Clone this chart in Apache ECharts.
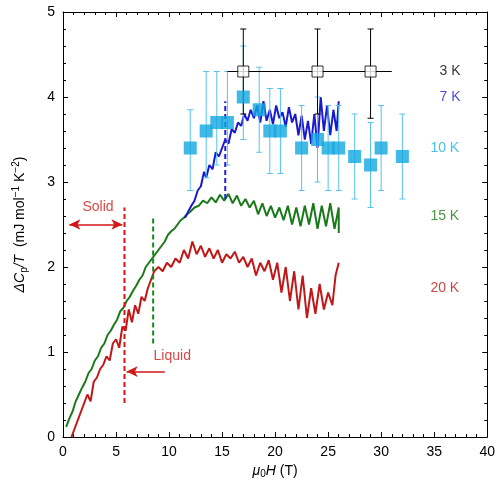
<!DOCTYPE html>
<html lang="en">
<head>
    <meta charset="UTF-8">
    <title>Cp</title>
    <script src="https://cdn.jsdelivr.net/npm/echarts@6/dist/echarts.min.js"></script>
    <style>
        html, body { margin: 0; height: 100%; background: #fff; }
        #main { width: 498px; height: 489px; }
    </style>
</head>
<body>
    <div id="main"></div>
    <script type="text/javascript">
        const chart = echarts.init(document.getElementById('main'));

        // 7 K (blue trace)
        const trace7 = [[11.5,2.58],[11.8,2.65],[12.1,2.72],[12.4,2.78],[12.7,2.9],[13,2.95],[13.3,3.12],[13.5,3.05],[13.8,3.2],[14.1,3.15],[14.4,3.35],[14.7,3.3],[15,3.4],[15.3,3.5],[15.6,3.45],[15.9,3.62],[16.2,3.58],[16.5,3.7],[16.8,3.66],[17.1,3.8],[17.4,3.72],[17.7,3.85],[18,3.75],[18.3,3.9],[18.6,3.7],[18.9,3.95],[19.2,3.72],[19.5,3.85],[19.8,3.68],[20.1,3.9],[20.4,3.75],[20.7,3.82],[21,3.65],[21.3,3.88],[21.6,3.7],[21.9,3.8],[22.2,3.55],[22.5,3.78],[22.8,3.5],[23.1,3.72],[23.4,3.45],[23.7,3.8],[24,3.4],[24.3,4.0],[24.6,3.6],[24.9,3.9],[25.2,3.55],[25.5,3.85],[25.8,3.6],[26,3.95]];
        // 15 K (green trace)
        const trace15 = [[0.3,0.12],[0.6,0.22],[0.9,0.3],[1.2,0.42],[1.5,0.5],[1.8,0.58],[2.1,0.65],[2.4,0.75],[2.7,0.8],[3,0.9],[3.3,0.95],[3.6,1.05],[3.9,1.1],[4.2,1.2],[4.5,1.25],[4.8,1.32],[5.1,1.38],[5.4,1.48],[5.7,1.52],[6,1.6],[6.3,1.65],[6.6,1.72],[6.9,1.78],[7.2,1.85],[7.5,1.9],[7.8,2.0],[8.1,2.05],[8.4,2.1],[8.7,2.15],[9,2.2],[9.3,2.25],[9.6,2.3],[9.9,2.38],[10.2,2.42],[10.5,2.45],[10.8,2.5],[11.1,2.55],[11.4,2.58],[11.7,2.62],[12,2.65],[12.4,2.7],[12.8,2.72],[13.2,2.78],[13.6,2.75],[14,2.82],[14.4,2.76],[14.8,2.85],[15.2,2.78],[15.6,2.86],[16,2.75],[16.4,2.84],[16.8,2.72],[17.2,2.8],[17.6,2.7],[18,2.78],[18.4,2.62],[18.8,2.75],[19.2,2.6],[19.6,2.72],[20,2.58],[20.4,2.7],[20.8,2.55],[21.2,2.72],[21.6,2.5],[22,2.7],[22.4,2.48],[22.8,2.72],[23.2,2.5],[23.6,2.75],[24,2.45],[24.4,2.72],[24.8,2.48],[25.2,2.75],[25.6,2.45],[26,2.7],[26,2.4]];
        // 20 K (red trace)
        const trace20 = [[0.8,0.0],[1.1,0.1],[1.4,0.2],[1.7,0.3],[2,0.4],[2.3,0.5],[2.6,0.42],[2.9,0.65],[3.2,0.7],[3.5,0.8],[3.8,0.85],[4.1,0.95],[4.4,0.9],[4.7,1.1],[5,1.15],[5.3,1.05],[5.6,1.3],[5.9,1.25],[6.2,1.5],[6.5,1.35],[6.8,1.55],[7.1,1.45],[7.4,1.65],[7.7,1.6],[8,1.75],[8.3,1.85],[8.6,1.95],[9,2.0],[9.4,1.95],[9.8,2.05],[10.2,2.0],[10.6,2.1],[11,2.05],[11.4,2.2],[11.8,2.1],[12.2,2.3],[12.6,2.15],[13,2.25],[13.4,2.12],[13.8,2.22],[14.2,2.1],[14.6,2.2],[15,2.05],[15.4,2.15],[15.8,2.1],[16.2,2.18],[16.6,2.05],[17,2.12],[17.4,2.0],[17.8,2.1],[18.2,1.9],[18.6,2.05],[19,1.95],[19.4,2.08],[19.8,1.85],[20.2,2.05],[20.6,1.7],[21,2.0],[21.4,1.6],[21.8,1.95],[22.2,1.5],[22.6,1.9],[23,1.4],[23.4,1.75],[23.8,1.45],[24.2,1.8],[24.6,1.5],[25,1.7],[25.4,1.55],[25.7,1.9],[26,2.05]];

        // 10 K points: [H, value, low, high]
        const pts10 = [[12,3.4,2.9,3.85],[13.5,3.6,3.05,4.3],[14.5,3.7,3.2,4.3],[15.5,3.7,3.2,4.3],[17,4.0,3.5,4.6],[18.5,3.85,3.35,4.35],[19.5,3.6,3.1,4.1],[20.5,3.6,3.1,4.1],[22.5,3.4,2.9,3.9],[24,3.5,3.0,4.0],[25,3.4,2.9,3.9],[26,3.4,2.9,3.9],[27.5,3.3,2.8,3.8],[29,3.2,2.7,3.7],[30,3.4,2.9,3.9],[32,3.3,2.8,3.8]];
        // 3 K points: [H, value, low, high]
        const pts3 = [[17,4.3,3.8,4.8],[24,4.3,3.8,4.8],[29,4.3,3.75,4.8]];
        const h3 = [15.5, 31];

        const tempLabels = [['3 K',36.5,4.3,'#000'],['7 K',36.5,4.0,'#1a1acc'],['10 K',36,3.4,'#1ab0e6'],['15 K',36,2.6,'#1a7a1a'],['20 K',36,1.75,'#c01818']];

        const FONT = 'Liberation Sans';
        const errSeries = (pts, color, cap) => ({
            type: 'custom',
            z: 3,
            renderItem: (p, api) => {
                const x = api.coord([api.value(0), api.value(1)])[0];
                const lo = api.coord([api.value(0), api.value(1)])[1];
                const hi = api.coord([api.value(0), api.value(2)])[1];
                const st = { stroke: color, lineWidth: 1 };
                return { type: 'group', children: [
                    { type: 'line', shape: { x1: x, y1: lo, x2: x, y2: hi }, style: st },
                    { type: 'line', shape: { x1: x - cap, y1: lo, x2: x + cap, y2: lo }, style: st },
                    { type: 'line', shape: { x1: x - cap, y1: hi, x2: x + cap, y2: hi }, style: st }
                ]};
            },
            data: pts.map(d => [d[0], d[2], d[3]])
        });
        const axisCommon = {
            min: 0, axisLine: { show: true, onZero: false, lineStyle: { color: '#000' } },
            axisTick: { show: true, inside: true, length: 5, lineStyle: { color: '#000' } },
            minorTick: { show: true, splitNumber: 5, length: 3, lineStyle: { color: '#000' } },
            splitLine: { show: false }
        };
        const trace = (data, color) => ({
            type: 'line', data: data, showSymbol: false, z: 2,
            lineStyle: { color: color, width: 2 }
        });
        const vdash = (x, y0, y1, color) => ({
            type: 'line', data: [[x, y0], [x, y1]], showSymbol: false, z: 4,
            lineStyle: { color: color, width: 2, type: [5, 3] }
        });
        const arrowLine = (coords, symbols) => ({
            type: 'line', data: [], z: 4,
            markLine: { silent: true, symbol: symbols, symbolSize: [8, 11], animation: false,
                lineStyle: { color: '#d01818', width: 1.5, type: 'solid' }, label: { show: false },
                data: [[{ coord: coords[0] }, { coord: coords[1] }]] }
        });

        chart.setOption({
            animation: false,
            grid: { left: 63, right: 10, top: 12, bottom: 52 },
            xAxis: [
                Object.assign({}, axisCommon, { max: 40, interval: 5, name: '{i|μ}{sub|0}{i|H} (T)', nameLocation: 'middle', nameGap: 26,
                    nameTextStyle: { fontFamily: FONT, fontSize: 14, color: '#000', rich: { i: { fontStyle: 'italic', fontSize: 14 }, sub: { fontSize: 10, verticalAlign: 'bottom', padding: [6, 0, 0, 0] } } },
                    axisLabel: { color: '#000', fontFamily: FONT, fontSize: 14 } }),
                Object.assign({}, axisCommon, { max: 40, interval: 5, position: 'top', axisLabel: { show: false } })
            ],
            yAxis: [
                Object.assign({}, axisCommon, { max: 5, interval: 1, name: '{i|ΔC}{sub|p}{i|/T}  (mJ mol{sup|−1} K{sup|−2})', nameLocation: 'middle', nameGap: 34,
                    nameTextStyle: { fontFamily: FONT, fontSize: 14, color: '#000', rich: { i: { fontStyle: 'italic', fontSize: 14 }, sub: { fontSize: 10, padding: [8, 0, 0, 0] }, sup: { fontSize: 10, padding: [0, 0, 8, 0] } } },
                    axisLabel: { color: '#000', fontFamily: FONT, fontSize: 14 } }),
                Object.assign({}, axisCommon, { max: 5, interval: 1, position: 'right', axisLabel: { show: false } })
            ],
            series: [
                trace(trace20, '#c01818'),
                trace(trace15, '#1a7a1a'),
                trace(trace7, '#1a1acc'),
                vdash(5.8, 0.4, 2.7, '#d01818'),
                vdash(8.5, 1.1, 2.6, '#1a8a1a'),
                vdash(15.3, 2.8, 3.95, '#2020d0'),
                errSeries(pts10, '#55c4ee', 3),
                { type: 'scatter', z: 5, symbol: 'rect', symbolSize: 13, itemStyle: { color: '#10a8e0' }, data: pts10.map(d => [d[0], d[1]]) },
                { type: 'line', z: 3, data: h3.map(x => [x, pts3[0][1]]), showSymbol: false, lineStyle: { color: '#000', width: 1 } },
                errSeries(pts3, '#000', 3),
                { type: 'scatter', z: 6, symbol: 'rect', symbolSize: 11, itemStyle: { color: '#fff', borderColor: '#000', borderWidth: 1 }, data: pts3.map(d => [d[0], d[1]]) },
                arrowLine([[0.6, 2.5], [5.6, 2.5]], ['arrow', 'arrow']),
                arrowLine([[9.6, 0.77], [6.0, 0.77]], ['none', 'arrow']),
                { type: 'scatter', z: 7, symbolSize: 0, silent: true,
                    label: { show: true, position: 'inside', formatter: p => p.data.name, fontFamily: FONT, fontSize: 14, color: '#d01818' },
                    data: [{ name: 'Solid', value: [3.3, 2.7] }, { name: 'Liquid', value: [10.3, 0.95] }] },
                { type: 'scatter', z: 7, symbolSize: 0, silent: true,
                    label: { show: true, position: 'inside', formatter: p => p.data.name, fontFamily: FONT, fontSize: 14 },
                    data: tempLabels.map(t => ({ name: t[0], value: [t[1], t[2]], label: { color: t[3] } })) }
            ]
        });
    </script>
</body>
</html>
